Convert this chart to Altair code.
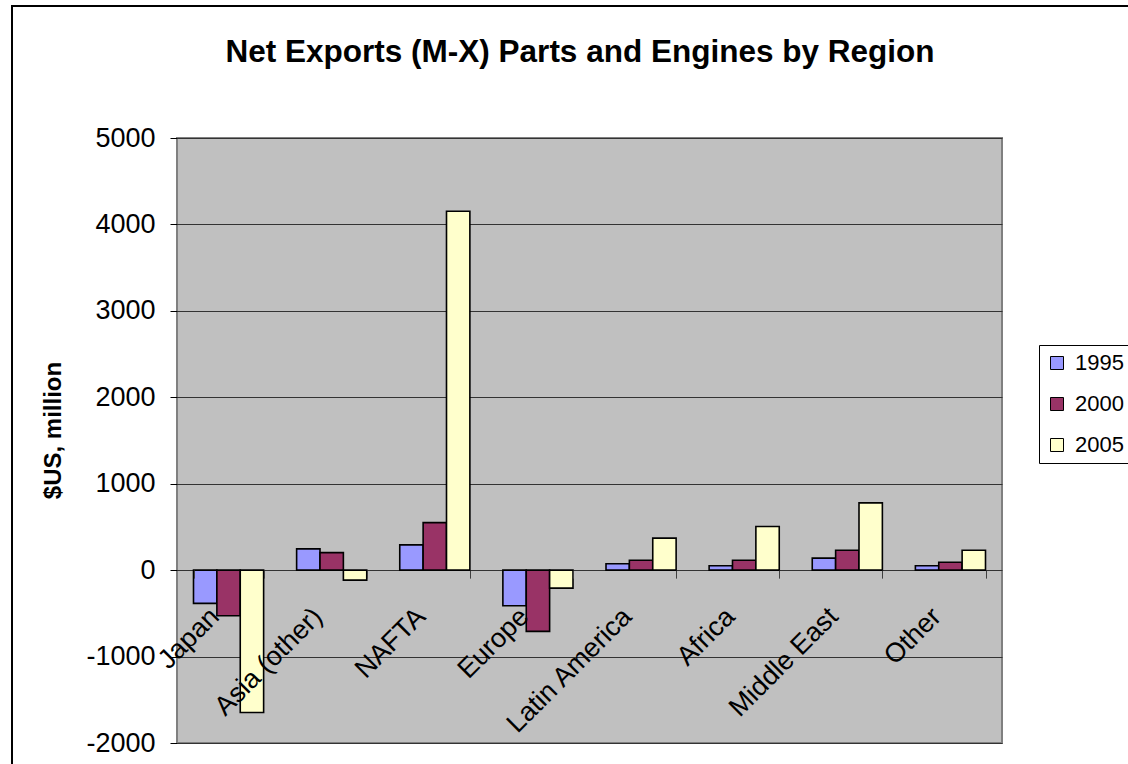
import altair as alt
import pandas as pd

regions = ["Japan", "Asia (other)", "NAFTA", "Europe", "Latin America", "Africa", "Middle East", "Other"]
years = ["1995", "2000", "2005"]
v1995 = [-385, 246, 292, -412, 74, 51, 139, 51]
v2000 = [-527, 203, 550, -708, 115, 115, 231, 92]
v2005 = [-1647, -115, 4153, -208, 370, 505, 778, 231]
colors = ["#9999FF", "#993366", "#FFFFCC"]
y_ticks = [-2000, -1000, 0, 1000, 2000, 3000, 4000, 5000]
title_text = "Net Exports (M-X) Parts and Engines by Region"

rows = []
for yr, vals in zip(years, [v1995, v2000, v2005]):
    for r, v in zip(regions, vals):
        rows.append({"region": r, "year": yr, "value": v})
df = pd.DataFrame(rows)

W, H = 825, 605
FONT = "Liberation Sans"
zero_offset = -H * 2000 / 7000

bars = alt.Chart(df).mark_bar(stroke="black", strokeWidth=1.6).encode(
    x=alt.X(
        "region:N", sort=regions,
        scale=alt.Scale(paddingInner=0.32, paddingOuter=0.16),
        axis=alt.Axis(
            title=None, orient="bottom", offset=zero_offset, domain=False, grid=False,
            tickBand="extent", tickSize=8, tickColor="#404040", tickWidth=1,
            labelAngle=315, labelAlign="right", labelBaseline="middle",
            labelFont=FONT, labelFontSize=27, labelColor="black",
            labelPadding=34, labelOffset=-14, labelOverlap=False, labelBound=False,
            labelFlush=False, zindex=1,
        ),
    ),
    xOffset=alt.XOffset("year:N", sort=years, scale=alt.Scale(paddingInner=0, paddingOuter=0)),
    y=alt.Y(
        "value:Q",
        scale=alt.Scale(domain=[-2000, 5000], nice=False, zero=False),
        axis=alt.Axis(
            values=y_ticks, title="$US, million", grid=True, gridColor="#333333", gridWidth=1,
            domain=False, tickColor="black", tickSize=7, tickWidth=1,
            labelExpr="datum.value + ''", labelFont=FONT, labelFontSize=27, labelColor="black",
            labelPadding=15,
            titleFont=FONT, titleFontSize=24, titleFontWeight="bold", titleColor="black",
            titleAngle=270, titleX=-124, titleY=292, titleAlign="center", titleBaseline="middle",
        ),
    ),
    color=alt.Color(
        "year:N", sort=years, title=None,
        scale=alt.Scale(domain=years, range=colors),
        legend=alt.Legend(
            orient="none", legendX=862, legendY=207,
            strokeColor="black", fillColor="white", padding=7,
            symbolType="square", symbolSize=169, symbolStrokeColor="black", symbolStrokeWidth=1,
            labelFont=FONT, labelFontSize=22, labelColor="black", labelOffset=7,
            rowPadding=19,
        ),
    ),
)

frame = alt.Chart(alt.Data(values=[{}])).mark_rect(
    filled=False, stroke="black", strokeWidth=2
).encode(
    x=alt.value(-165), x2=alt.value(963), y=alt.value(-132), y2=alt.value(632)
)

title = alt.Chart(alt.Data(values=[{"t": title_text}])).mark_text(
    font=FONT, fontSize=31.5, fontWeight="bold", color="black",
    align="center", baseline="alphabetic",
).encode(
    text="t:N", x=alt.value(403), y=alt.value(-76)
)

chart = alt.layer(frame, bars, title).properties(
    width=W, height=H,
    autosize=alt.AutoSizeParams(type="none"),
    padding={"left": 177, "top": 138, "right": 126, "bottom": 21},
    background="white",
).configure_view(
    fill="#C0C0C0", stroke="#808080", strokeWidth=2
)

chart.save("out.html", embed_options={"renderer": "svg", "actions": False})
